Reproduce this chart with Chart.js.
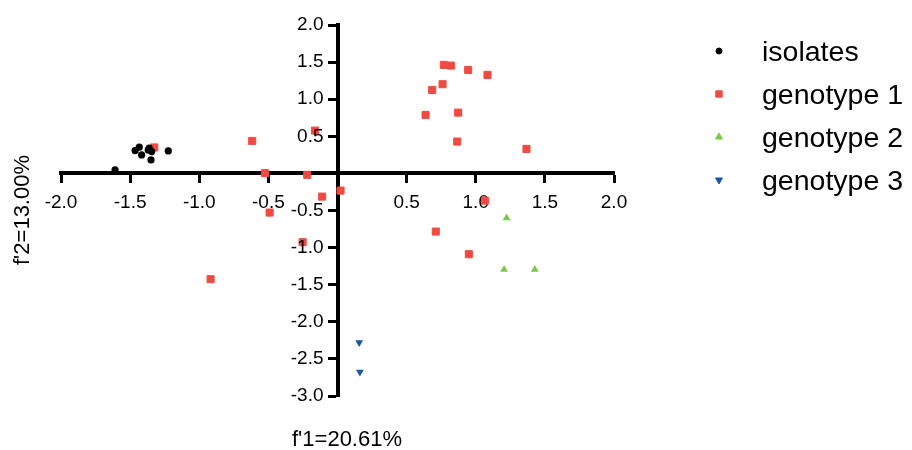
<!DOCTYPE html>
<html>
<head>
<meta charset="utf-8">
<script src="https://cdn.jsdelivr.net/npm/chart.js@4/dist/chart.umd.min.js"></script>
<style>
  body { margin: 0; background: #fff; }
</style>
</head>
<body>
<canvas id="scatterChart" width="912" height="450"></canvas>
<script>
// values (f'1 / f'2 scores)
var isolatesX = [-1.609, -1.464, -1.434, -1.417, -1.369, -1.344, -1.349, -1.224, -1.362];
var isolatesY = [0.047, 0.307, 0.353, 0.249, 0.317, 0.294, 0.182, 0.303, 0.340];

var genotype1X = [-1.325, -0.617, -0.163, -0.525, -0.219, -0.111, 0.022, -0.491, -0.252, -0.918,
                  0.769, 0.820, 0.945, 1.085, 0.760, 0.685, 0.637, 0.873, 0.866, 1.367,
                  1.066, 0.711, 0.950];
var genotype1Y = [0.350, 0.438, 0.577, 0.003, -0.020, -0.313, -0.232, -0.528, -0.927, -1.426,
                  1.462, 1.453, 1.395, 1.327, 1.202, 1.125, 0.788, 0.819, 0.429, 0.330,
                  -0.367, -0.784, -1.089];

var genotype2X = [1.223, 1.205, 1.427];
var genotype2Y = [-0.600, -1.295, -1.295];

var genotype3X = [0.157, 0.162];
var genotype3Y = [-2.280, -2.675];

var seriesLabels = ['isolates', 'genotype 1', 'genotype 2', 'genotype 3'];
var axisTitleX = "f'1=20.61%";
var axisTitleY = "f'2=13.00%";

function toPoints(xs, ys) {
    return xs.map(function (x, i) { return { x: x, y: ys[i] }; });
}

function tickLabel(v) {
    return Math.abs(v) < 1e-9 ? '' : v.toFixed(1);
}

var FONT = "'Liberation Sans', Arial, Helvetica, sans-serif";

// y tick labels (left of the centred axis), legend and axis titles
var extrasPlugin = {
    id: 'extras',
    afterDraw: function (chart) {
        var ctx = chart.ctx;
        var xs = chart.scales.x, ys = chart.scales.y;
        ctx.save();
        ctx.fillStyle = '#000';

        ctx.font = '19px ' + FONT;
        ctx.textAlign = 'right';
        ctx.textBaseline = 'middle';
        var axisX = xs.getPixelForValue(0);
        ys.ticks.forEach(function (t) {
            if (t.label) ctx.fillText(t.label, axisX - 14, ys.getPixelForValue(t.value));
        });

        ctx.font = '22px ' + FONT;
        ctx.textAlign = 'center';
        ctx.textBaseline = 'alphabetic';
        ctx.fillText(axisTitleX, 347, 446);

        ctx.save();
        ctx.translate(29, 210);
        ctx.rotate(-Math.PI / 2);
        ctx.fillText(axisTitleY, 0, 0);
        ctx.restore();

        ctx.font = '28.5px ' + FONT;
        ctx.textAlign = 'left';
        chart.data.datasets.forEach(function (ds, i) {
            var y = 51 + i * 43;
            ctx.fillStyle = ds.backgroundColor;
            ctx.strokeStyle = ds.borderColor;
            Chart.helpers.drawPoint(ctx, {
                pointStyle: ds.pointStyle,
                rotation: ds.rotation || 0,
                radius: ds.legendRadius,
                borderWidth: 1
            }, 719, y);
            ctx.fillStyle = '#000';
            ctx.fillText(ds.label, 762, y + 9.5);
        });
        ctx.restore();
    }
};

var ctx = document.getElementById('scatterChart').getContext('2d');
var scatterChart = new Chart(ctx, {
    type: 'scatter',
    data: {
        datasets: [{
            label: seriesLabels[0],
            data: toPoints(isolatesX, isolatesY),
            pointStyle: 'circle',
            pointRadius: 3.6,
            legendRadius: 3,
            backgroundColor: '#000000',
            borderColor: '#000000',
            borderWidth: 0
        }, {
            label: seriesLabels[1],
            data: toPoints(genotype1X, genotype1Y),
            pointStyle: 'rect',
            pointRadius: 5,
            legendRadius: 4.5,
            backgroundColor: '#f04b43',
            borderColor: '#f04b43',
            borderWidth: 1
        }, {
            label: seriesLabels[2],
            data: toPoints(genotype2X, genotype2Y),
            pointStyle: 'triangle',
            pointRadius: 4.5,
            legendRadius: 4,
            backgroundColor: '#78c84a',
            borderColor: '#78c84a',
            borderWidth: 0
        }, {
            label: seriesLabels[3],
            data: toPoints(genotype3X, genotype3Y),
            pointStyle: 'triangle',
            rotation: 180,
            pointRotation: 180,
            pointRadius: 4.5,
            legendRadius: 4,
            backgroundColor: '#1a56a8',
            borderColor: '#1a56a8',
            borderWidth: 0
        }]
    },
    options: {
        responsive: false,
        animation: false,
        devicePixelRatio: 1,
        layout: {
            padding: { left: 61, right: 298, top: 25, bottom: 54 }
        },
        plugins: {
            legend: { display: false },
            tooltip: { enabled: false }
        },
        scales: {
            x: {
                type: 'linear',
                min: -2,
                max: 2,
                position: { y: 0 },
                border: { display: true, width: 4, color: '#000' },
                grid: {
                    drawOnChartArea: false,
                    drawTicks: true,
                    tickLength: 8,
                    tickWidth: 3,
                    tickColor: '#000'
                },
                ticks: {
                    stepSize: 0.5,
                    autoSkip: false,
                    maxRotation: 0,
                    padding: 10,
                    color: '#000',
                    font: { family: FONT, size: 19 },
                    callback: tickLabel
                }
            },
            y: {
                type: 'linear',
                min: -3,
                max: 2,
                position: { x: 0 },
                border: { display: true, width: 4, color: '#000' },
                grid: {
                    drawOnChartArea: false,
                    drawTicks: true,
                    tickLength: 8,
                    tickWidth: 3,
                    tickColor: '#000'
                },
                ticks: {
                    display: false,
                    stepSize: 0.5,
                    autoSkip: false,
                    callback: tickLabel
                }
            }
        }
    },
    plugins: [extrasPlugin]
});
</script>
</body>
</html>
